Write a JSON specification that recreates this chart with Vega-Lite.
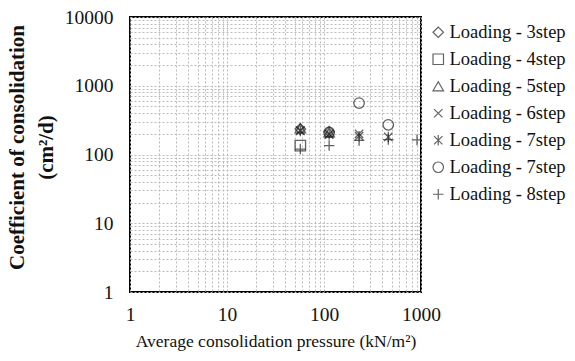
{
  "$schema": "https://vega.github.io/schema/vega-lite/v6.json",
  "width": 291,
  "height": 275,
  "autosize": {"type": "none"},
  "padding": {"left": 130, "top": 17, "right": 154, "bottom": 69},
  "background": "white",
  "config": {
    "font": "Times New Roman, Liberation Serif, serif",
    "view": {"stroke": "black", "strokeWidth": 2},
    "axis": {"domain": false, "ticks": false, "gridColor": "#bbbbbb", "gridDash": [2, 2], "gridWidth": 1, "labelFont": "Times New Roman, Liberation Serif, serif", "labelFontSize": 19.5, "labelColor": "#111", "titleFont": "Times New Roman, Liberation Serif, serif", "titleColor": "#111", "labelOverlap": false, "labelBound": false, "labelFlush": false}
  },
  "data": {
    "values": [
      {"series": "s3", "p": 57, "cv": 235},
      {"series": "s3", "p": 113, "cv": 215},
      {"series": "s4", "p": 57, "cv": 135},
      {"series": "s5", "p": 57, "cv": 240},
      {"series": "s5", "p": 113, "cv": 210},
      {"series": "s6", "p": 57, "cv": 225},
      {"series": "s6", "p": 113, "cv": 200},
      {"series": "s6", "p": 230, "cv": 200},
      {"series": "s7a", "p": 57, "cv": 220},
      {"series": "s7a", "p": 113, "cv": 195},
      {"series": "s7a", "p": 230, "cv": 185},
      {"series": "s7a", "p": 460, "cv": 180},
      {"series": "s7b", "p": 113, "cv": 210},
      {"series": "s7b", "p": 230, "cv": 560},
      {"series": "s7b", "p": 460, "cv": 270},
      {"series": "s8", "p": 57, "cv": 120},
      {"series": "s8", "p": 113, "cv": 135},
      {"series": "s8", "p": 230, "cv": 160},
      {"series": "s8", "p": 460, "cv": 165},
      {"series": "s8", "p": 910, "cv": 163}
    ]
  },
  "mark": {"type": "point", "filled": false, "size": 110, "strokeWidth": 1.3, "color": "#222", "clip": true},
  "encoding": {
    "x": {
      "field": "p", "type": "quantitative",
      "scale": {"type": "log", "domain": [1, 1000], "nice": false},
      "axis": {
        "values": [1,2,3,4,5,6,7,8,9,10,20,30,40,50,60,70,80,90,100,200,300,400,500,600,700,800,900,1000],
        "format": "d",
        "labelExpr": "datum.value == 1 || datum.value == 10 || datum.value == 100 || datum.value == 1000 ? datum.label : ''",
        "labelPadding": 13,
        "title": "Average consolidation pressure (kN/m²)",
        "titleFontSize": 17.5,
        "titleFontWeight": "normal",
        "titlePadding": 9
      }
    },
    "y": {
      "field": "cv", "type": "quantitative",
      "scale": {"type": "log", "domain": [1, 10000], "nice": false},
      "axis": {
        "values": [1,2,3,4,5,6,7,8,9,10,20,30,40,50,60,70,80,90,100,200,300,400,500,600,700,800,900,1000,2000,3000,4000,5000,6000,7000,8000,9000,10000],
        "format": "d",
        "labelExpr": "datum.value == 1 || datum.value == 10 || datum.value == 100 || datum.value == 1000 || datum.value == 10000 ? datum.label : ''",
        "labelPadding": 17,
        "title": ["Coefficient of consolidation", "(cm²/d)"],
        "titleFontSize": 21,
        "titleFontWeight": "bold",
        "titlePadding": 8,
        "titleLineHeight": 29,
        "titleY": 130
      }
    },
    "shape": {
      "field": "series", "type": "nominal",
      "scale": {
        "domain": ["s3", "s4", "s5", "s6", "s7a", "s7b", "s8"],
        "range": ["diamond", "square", "triangle-up", "M-0.8,-0.8L0.8,0.8M-0.8,0.8L0.8,-0.8", "M-0.8,-0.8L0.8,0.8M-0.8,0.8L0.8,-0.8M0,-1L0,1", "circle", "M-1,0L1,0M0,-1L0,1"]
      },
      "legend": {
        "title": null,
        "orient": "none",
        "legendX": 299,
        "legendY": 6,
        "labelExpr": "{'s3':'Loading - 3step','s4':'Loading - 4step','s5':'Loading - 5step','s6':'Loading - 6step','s7a':'Loading - 7step','s7b':'Loading - 7step','s8':'Loading - 8step'}[datum.value]",
        "labelFont": "Times New Roman, Liberation Serif, serif",
        "labelFontSize": 18.5,
        "labelColor": "#111",
        "symbolSize": 110,
        "symbolStrokeColor": "#222",
        "symbolStrokeWidth": 1.2,
        "symbolFillColor": "transparent",
        "symbolType": "circle",
        "labelOffset": 2,
        "rowPadding": 8,
        "labelLimit": 200
      }
    }
  }
}
